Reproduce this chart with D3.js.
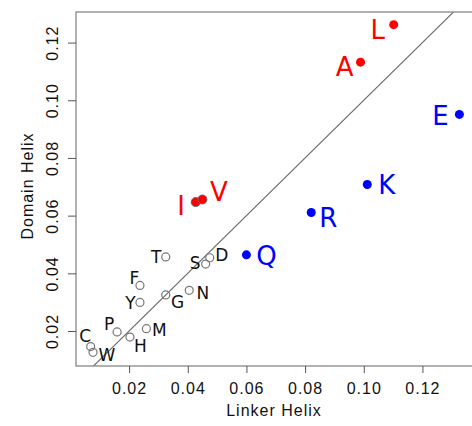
<!DOCTYPE html>
<html>
<head>
<meta charset="utf-8">
<script src="https://cdn.jsdelivr.net/npm/d3@7"></script>
<style>
  body { margin: 0; background: #fff; }
  svg { display: block; }
</style>
</head>
<body>
<div id="chart"></div>
<script>
  'use strict';

  // amino acid propensities, linker helix vs domain helix
  const residues = ['L', 'A', 'E', 'K', 'R', 'I', 'V', 'Q', 'T', 'D', 'S', 'F', 'N', 'G', 'Y', 'P', 'M', 'H', 'C', 'W'];
  const linker = [0.1102, 0.0989, 0.1326, 0.1012, 0.0821, 0.0427, 0.0450, 0.0600, 0.0325, 0.0475,
                  0.0461, 0.0237, 0.0405, 0.0325, 0.0237, 0.0159, 0.0259, 0.0203, 0.0069, 0.0077];
  const domain = [0.1262, 0.1132, 0.0951, 0.0708, 0.0611, 0.0647, 0.0656, 0.0464, 0.0457, 0.0454,
                  0.0432, 0.0358, 0.0341, 0.0325, 0.0299, 0.0197, 0.0208, 0.0179, 0.0146, 0.0126];
  const groups = ['hyd', 'hyd', 'chg', 'chg', 'chg', 'hyd', 'hyd', 'chg', 'other', 'other',
                  'other', 'other', 'other', 'other', 'other', 'other', 'other', 'other', 'other', 'other'];
  const xTicks = [0.02, 0.04, 0.06, 0.08, 0.10, 0.12];
  const yTicks = [0.02, 0.04, 0.06, 0.08, 0.10, 0.12];

  // where each letter sits relative to its point (px)
  const labelOffset = {
    L: [-16, 5], A: [-16, 4], E: [-19, 1], K: [19.5, 0], R: [17, 5], I: [-14.5, 3], V: [16.5, -7.5], Q: [20, 1],
    T: [-9.5, 0], D: [12, -3], S: [-10.5, -1], F: [-5.5, -8], N: [13.7, 2.7], G: [11.8, 7.3], Y: [-9.5, 0],
    P: [-8, -8], M: [13, 1], H: [10.5, 8.3], C: [-5.4, -11], W: [14, 2]
  };

  const W = 472, H = 426;
  const padL = 76, padT = 12, padB = 366, padR = 480;

  const x = d3.scaleLinear().domain([0.0019, 0.1369]).range([padL, 472]);
  const y = d3.scaleLinear().domain([0.00787, 0.1306]).range([padB, padT]);

  const colors = { hyd: '#ff0000', chg: '#0000ff', other: '#777' };

  const svg = d3.select('#chart').append('svg').attr('width', W).attr('height', H);

  svg.append('defs').append('clipPath').attr('id', 'plotclip')
    .append('rect').attr('x', padL).attr('y', padT).attr('width', padR - padL).attr('height', padB - padT);

  // y = x reference line
  svg.append('line')
    .attr('clip-path', 'url(#plotclip)')
    .attr('x1', x(0)).attr('y1', y(0))
    .attr('x2', x(0.2)).attr('y2', y(0.2))
    .attr('stroke', '#666').attr('stroke-width', 1.1);

  // box
  svg.append('rect')
    .attr('x', padL).attr('y', padT)
    .attr('width', padR - padL).attr('height', padB - padT)
    .attr('fill', 'none').attr('stroke', '#888').attr('stroke-width', 1.3);

  // x axis
  const gx = svg.append('g').attr('transform', `translate(0,${padB})`)
    .call(d3.axisBottom(x).tickValues(xTicks).tickSize(7).tickFormat(d3.format('.2f')));
  gx.select('.domain').remove();
  gx.selectAll('line').attr('stroke', '#555');
  gx.selectAll('text')
    .attr('y', 28).attr('dy', null)
    .attr('font-family', '"Liberation Sans", Arial, sans-serif')
    .attr('font-size', 16).attr('letter-spacing', 1).attr('fill', '#111');

  // y axis
  const gy = svg.append('g').attr('transform', `translate(${padL},0)`)
    .call(d3.axisLeft(y).tickValues(yTicks).tickSize(8).tickFormat(d3.format('.2f')));
  gy.select('.domain').remove();
  gy.selectAll('line').attr('stroke', '#555');
  gy.selectAll('text')
    .attr('x', null).attr('dy', null)
    .attr('text-anchor', 'middle')
    .attr('transform', 'translate(-18,0) rotate(-90)')
    .attr('font-family', '"Liberation Sans", Arial, sans-serif')
    .attr('font-size', 16).attr('letter-spacing', 1).attr('fill', '#111');

  svg.append('text')
    .attr('x', (padL + 472) / 2).attr('y', 416)
    .attr('text-anchor', 'middle')
    .attr('font-family', '"Liberation Sans", Arial, sans-serif')
    .attr('font-size', 16).attr('letter-spacing', 1).attr('fill', '#111')
    .text('Linker Helix');

  svg.append('text')
    .attr('transform', `translate(33,186) rotate(-90)`)
    .attr('text-anchor', 'middle')
    .attr('font-family', '"Liberation Sans", Arial, sans-serif')
    .attr('font-size', 16).attr('letter-spacing', 1).attr('fill', '#111')
    .text('Domain Helix');

  const pts = residues.map((r, i) => ({ r, lx: linker[i], dv: domain[i], g: groups[i] }));

  // points
  const plain = pts.filter(d => d.g === 'other');
  const colored = pts.filter(d => d.g !== 'other');

  svg.append('g').selectAll('circle').data(plain).enter().append('circle')
    .attr('cx', d => x(d.lx)).attr('cy', d => y(d.dv)).attr('r', 4)
    .attr('fill', 'none').attr('stroke', '#777').attr('stroke-width', 1.2);

  svg.append('g').selectAll('circle').data(colored).enter().append('circle')
    .attr('cx', d => x(d.lx)).attr('cy', d => y(d.dv)).attr('r', 4.5)
    .attr('fill', d => colors[d.g])
    .attr('stroke', d => (d.r === 'I' || d.r === 'V') ? '#666' : 'none')
    .attr('stroke-width', 1);

  // letters
  svg.append('g').selectAll('text').data(pts).enter().append('text')
    .attr('text-anchor', 'middle')
    .attr('font-family', '"DejaVu Sans", sans-serif')
    .attr('font-size', d => d.g === 'other' ? 17 : 26)
    .attr('fill', d => d.g === 'other' ? '#111' : colors[d.g])
    .attr('x', d => x(d.lx) + labelOffset[d.r][0])
    .attr('y', d => y(d.dv) + labelOffset[d.r][1] + (d.g === 'other' ? 17 : 26) * 0.365)
    .text(d => d.r);
</script>
</body>
</html>
